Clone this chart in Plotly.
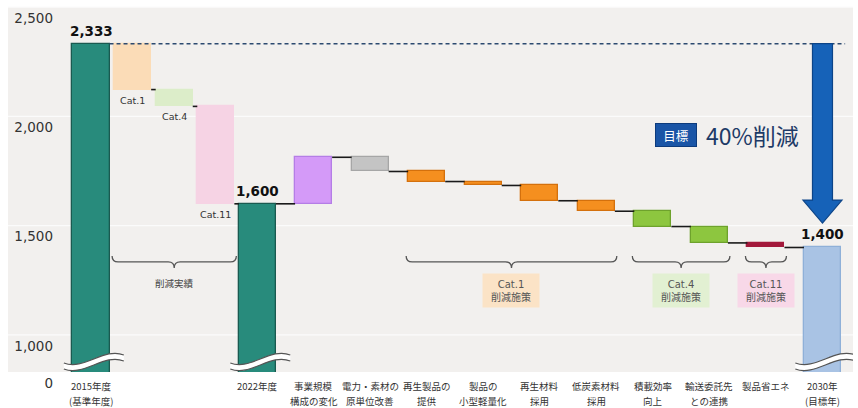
import plotly.graph_objects as go

# ---------------- data ----------------
steps = ["2015年度", "Cat.1", "Cat.4", "Cat.11", "2022年度",
         "事業規模構成の変化", "電力・素材の原単位改善", "再生製品の提供",
         "製品の小型軽量化", "再生材料採用", "低炭素材料採用",
         "積載効率向上", "輸送委託先との連携", "製品省エネ", "2030年"]
kinds = ["total", "delta", "delta", "delta", "total",
         "delta", "delta", "delta", "delta", "delta", "delta",
         "delta", "delta", "delta", "total"]
values = [2333, -210, -77, -446, 1600,
          213, -65, -46, -18, -70, -48, -70, -75, -21, 1400]
tick_line1 = ["2015年度", "", "", "", "2022年度",
              "事業規模", "電力・素材の", "再生製品の", "製品の", "再生材料", "低炭素材料",
              "積載効率", "輸送委託先", "製品省エネ", "2030年"]
tick_line2 = ["(基準年度)", "", "", "", "",
              "構成の変化", "原単位改善", "提供", "小型軽量化", "採用", "採用",
              "向上", "との連携", "", "(目標年)"]
cat_labels = ["", "Cat.1", "Cat.4", "Cat.11", "", "", "", "", "", "", "", "", "", "", ""]
value_labels = ["2,333", "", "", "", "1,600", "", "", "", "", "", "", "", "", "", "1,400"]
y_tick_vals = [830, 1000, 1500, 2000, 2500]
y_tick_text = ["0", "1,000", "1,500", "2,000", "2,500"]
groups = [("削減実績", 1, 3), ("Cat.1<br>削減施策", 7, 10),
          ("Cat.4<br>削減施策", 11, 12), ("Cat.11<br>削減施策", 13, 13)]

# ---------------- styles ----------------
fill = ["#288b7c", "#fbdcb7", "#dcedc9", "#f6d3e4", "#288b7c",
        "#d49af8", "#c4c4c4", "#f58f1f", "#f58f1f", "#f58f1f", "#f58f1f",
        "#8dc63f", "#8dc63f", "#a3193b", "#a9c3e4"]
edge = ["#1a5a50", "#fbdcb7", "#dcedc9", "#f6d3e4", "#1a5a50",
        "#b57ee6", "#a6a6a6", "#d4700c", "#d4700c", "#d4700c", "#d4700c",
        "#6ea22c", "#6ea22c", "#a3193b", "#8fb0d8"]
group_bg = [None, "#fbe3c6", "#e2f0d2", "#f8d8e8"]
BG = "#f2f0ee"
Y0, Y1 = 830, 2501

# x positions: compact group for the first 5 bars, wider spacing afterwards
xs = []
for i in range(len(steps)):
    xs.append(i * 0.73 if i < 5 else 3.905 + (i - 5) * 0.992)
W = 0.65

# waterfall geometry
bases, heights, levels = [], [], []
level = 0
for k, v in zip(kinds, values):
    if k == "total":
        bases.append(0); heights.append(v); level = v
    else:
        start, end = level, level + v
        bases.append(min(start, end)); heights.append(abs(v)); level = end
    levels.append(level)

fig = go.Figure()
fig.add_trace(go.Bar(x=xs, y=heights, base=bases, width=W,
                     marker=dict(color=fill, line=dict(color=edge, width=1.3)),
                     hoverinfo="skip", showlegend=False))

# connectors
cx, cy = [], []
for i in range(1, len(steps) - 1):
    cx += [xs[i] + W / 2, xs[i + 1] - W / 2, None]
    cy += [levels[i], levels[i], None]
fig.add_trace(go.Scatter(x=cx, y=cy, mode="lines", line=dict(color="#1a1a1a", width=1.6),
                         hoverinfo="skip", showlegend=False))
# dashed reference line from 2015 level
fig.add_trace(go.Scatter(x=[xs[0] + W / 2, 13.23], y=[values[0], values[0]], mode="lines",
                         line=dict(color="#2c4a70", width=1.4, dash="4px,3px"),
                         hoverinfo="skip", showlegend=False))

shapes = []
# gray background + white gridlines (paper coords)
plot_w = 858 - 60 - 5
xl = (8 - 60) / plot_w
shapes.append(dict(type="rect", xref="paper", yref="paper", x0=xl, x1=1, y0=0, y1=1,
                   fillcolor=BG, line=dict(width=0), layer="below"))
for v in y_tick_vals[1:]:
    yp = (v - Y0) / (Y1 - Y0)
    shapes.append(dict(type="line", xref="paper", yref="paper", x0=xl, x1=1, y0=yp, y1=yp,
                       line=dict(color="#fbfbfb", width=1.2), layer="below"))

# axis-break waves on total bars
px_x = 1 / 57.0
px_y = (Y1 - Y0) / 365.0
wave_y = 876
for i, k in enumerate(kinds):
    if k != "total":
        continue
    c = xs[i] + 0.05
    x0, x1 = c - 30 * px_x, c + 30 * px_x
    def curve(off):
        ya = wave_y + (off - 4) * px_y
        yb = wave_y + (off + 4) * px_y
        return (x0, ya, x0 + 20 * px_x, ya - 8 * px_y, x1 - 20 * px_x, yb + 8 * px_y, x1, yb)
    a = curve(-3)
    b = curve(3)
    band = (f"M{a[0]},{a[1]} C{a[2]},{a[3]} {a[4]},{a[5]} {a[6]},{a[7]} "
            f"L{b[6]},{b[7]} C{b[4]},{b[5]} {b[2]},{b[3]} {b[0]},{b[1]} Z")
    shapes.append(dict(type="path", xref="x", yref="y", path=band, fillcolor="white",
                       line=dict(width=0), layer="above"))
    for q in (a, b):
        shapes.append(dict(type="path", xref="x", yref="y",
                           path=f"M{q[0]},{q[1]} C{q[2]},{q[3]} {q[4]},{q[5]} {q[6]},{q[7]}",
                           line=dict(color="#555555", width=1.2), layer="above"))

# braces
yt, ym, yb = 1361, 1334, 1306
r = 6 * px_x
annotations = []
for gi, (label, i0, i1) in enumerate(groups):
    xa = xs[i0] - 0.36
    xb = xs[i1] + 0.36
    xc = (xa + xb) / 2
    path = (f"M{xa},{yt} Q{xa},{ym} {xa + r},{ym} L{xc - r},{ym} Q{xc},{ym} {xc},{yb} "
            f"Q{xc},{ym} {xc + r},{ym} L{xb - r},{ym} Q{xb},{ym} {xb},{yt}")
    shapes.append(dict(type="path", xref="x", yref="y", path=path,
                       line=dict(color="#555555", width=1.3)))
    if group_bg[gi] is None:
        annotations.append(dict(x=xc, y=1237, text=label, showarrow=False,
                                font=dict(family="Noto Sans CJK JP", size=9.5, color="#444")))
    else:
        annotations.append(dict(x=xc, y=1201, text=label, showarrow=False,
                                bgcolor=group_bg[gi], width=54, height=31,
                                font=dict(family="DejaVu Sans, Noto Sans CJK JP", size=10,
                                          color="#555")))

# target arrow
ac = xs[-1]
sw, hw = 10 * px_x, 19.5 * px_x
y_top, y_head, y_tip = values[0], 1617, 1512
arrow = (f"M{ac - sw},{y_top} L{ac + sw},{y_top} L{ac + sw},{y_head} L{ac + hw},{y_head} "
         f"L{ac},{y_tip} L{ac - hw},{y_head} L{ac - sw},{y_head} Z")
shapes.append(dict(type="path", xref="x", yref="y", path=arrow, fillcolor="#1662b8",
                   line=dict(color="#0c4488", width=1.2)))

# value labels & category labels
for i in range(len(steps)):
    if value_labels[i]:
        annotations.append(dict(x=xs[i], y=levels[i], text=f"<b>{value_labels[i]}</b>",
                                showarrow=False, yanchor="bottom", yshift=3,
                                font=dict(family="DejaVu Sans", size=13.5, color="#111")))
    if cat_labels[i]:
        annotations.append(dict(x=xs[i], y=levels[i], text=cat_labels[i], showarrow=False,
                                yanchor="top", yshift=-3,
                                font=dict(family="DejaVu Sans", size=9.5, color="#333")))
    # category axis labels (two lines, spaced like the reference)
    for line, shift in ((tick_line1[i], -14), (tick_line2[i], -29)):
        if line:
            annotations.append(dict(x=xs[i], xref="x", y=0, yref="paper", text=line,
                                    showarrow=False, yanchor="middle", yshift=shift,
                                    font=dict(family="Noto Sans CJK JP", size=9.5,
                                              color="#333")))

annotations.append(dict(x=10.26, y=1915, text="目標", showarrow=False,
                        bgcolor="#1a55a6", bordercolor="#0d3b7c", borderwidth=1,
                        width=38, height=20,
                        font=dict(family="Noto Sans CJK JP", size=12.5, color="white")))
annotations.append(dict(x=10.75, y=1915, text="40%削減", showarrow=False, xanchor="left",
                        font=dict(family="Noto Sans CJK JP", size=23, color="#1d3a66")))

fig.update_layout(
    width=858, height=408,
    margin=dict(l=60, r=5, t=7, b=36),
    paper_bgcolor="white", plot_bgcolor=BG,
    bargap=0, showlegend=False,
    shapes=shapes, annotations=annotations,
    xaxis=dict(range=[-(91 - 60) / 57.0, (853 - 91) / 57.0], showticklabels=False,
               showgrid=False, zeroline=False, showline=False, ticks="", automargin=False),
    yaxis=dict(range=[Y0, Y1], tickmode="array", tickvals=y_tick_vals, ticktext=y_tick_text,
               showgrid=False, zeroline=False, showline=False, ticks="", automargin=False,
               ticklabelshift=11, ticklabelstandoff=6,
               tickfont=dict(family="DejaVu Sans", size=13.5, color="#333")),
)

fig.write_html("out.html")
